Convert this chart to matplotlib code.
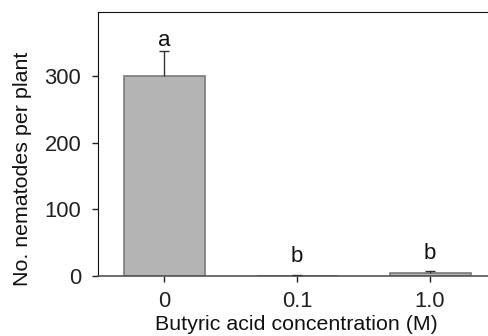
import numpy as np
import matplotlib
matplotlib.use('Agg')
import matplotlib.pyplot as plt

plt.rcParams['font.family'] = ['Liberation Sans', 'DejaVu Sans']

concentrations = ['0', '0.1', '1.0']
nematodes = [300, 0.6, 5]
errors = [38, 1.0, 3]
letters = ['a', 'b', 'b']
letter_y = [345, 21.5, 25]

fig = plt.figure(figsize=(4.88, 3.36), dpi=100)
ax = fig.add_axes([0.2008, 0.1786, 0.8166, 0.785])

x = np.arange(len(concentrations))
ax.bar(x, nematodes, width=0.61, color='#b4b4b4', edgecolor='#7a7a7a', linewidth=1.2,
       zorder=2)
eb = ax.errorbar(x, nematodes, yerr=[np.zeros(len(errors)), errors], fmt='none',
                 ecolor='#333333', elinewidth=1, capsize=3.3, capthick=1, zorder=3)
# only the upper cap, like the original
eb[1][0].set_visible(False)
for xi, lab, ly in zip(x, letters, letter_y):
    ax.text(xi, ly, lab, ha='center', va='baseline', fontsize=16, color='#111111')

ax.set_xlim(-0.5, 2.5)
ax.set_ylim(0, 396)
ax.set_xticks(x)
ax.set_xticklabels(concentrations)
ax.set_yticks([0, 100, 200, 300])
ax.tick_params(axis='both', labelsize=15.8, length=4, width=1, colors='#222222')
ax.tick_params(axis='y', pad=8)
ax.tick_params(axis='x', pad=7)

ax.spines['right'].set_visible(False)
ax.spines['left'].set_color('#111111')
ax.spines['top'].set_color('#111111')
ax.spines['bottom'].set_color('#555555')
ax.spines['bottom'].set_linewidth(1.2)

ax.set_xlabel('Butyric acid concentration (M)', fontsize=15.4, color='#111111')
ax.set_ylabel('No. nematodes per plant', fontsize=15.4, color='#111111')
ax.yaxis.set_label_coords(-0.165, 0.406)
ax.xaxis.set_label_coords(0.497, -0.148)

fig.savefig('out.png', dpi=100)
